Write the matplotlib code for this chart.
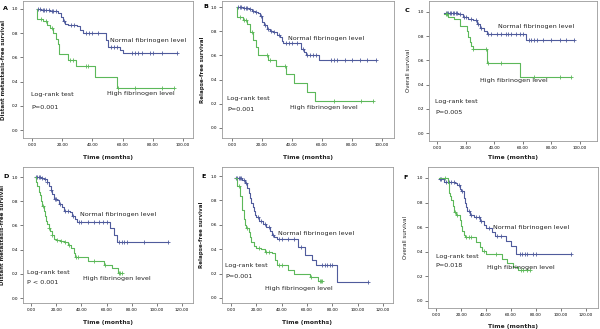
import numpy as np
import matplotlib.pyplot as plt

# ---- data (step points: time, survival) ----
a_norm_t = [3, 6, 12, 17.5, 19, 20.5, 22, 24, 30, 32, 34, 49, 50, 58, 60, 96]
a_norm_s = [1.0, 0.99, 0.98, 0.97, 0.93, 0.90, 0.88, 0.87, 0.86, 0.83, 0.80, 0.74, 0.69, 0.66, 0.64, 0.64]
a_norm_c = [4, 5, 7, 8, 9, 11, 13, 14, 16, 21, 26, 28, 36, 38, 40, 44, 52, 54, 56, 66, 68, 70, 73, 78, 80, 86, 96]
a_high_t = [3, 3.5, 7, 10, 12, 14, 16, 17, 18, 24, 29, 42, 56, 94]
a_high_s = [1.0, 0.92, 0.90, 0.87, 0.84, 0.80, 0.75, 0.71, 0.63, 0.58, 0.53, 0.44, 0.35, 0.35]
a_high_c = [6, 9, 13, 25, 27, 36, 37, 57, 68, 86, 94]

b_norm_t = [3, 7, 11, 13, 15, 17, 18.5, 20, 21.5, 23, 25, 27, 30, 32, 33, 34, 46, 48, 49, 58, 96]
b_norm_s = [1.0, 0.99, 0.98, 0.97, 0.96, 0.95, 0.93, 0.88, 0.85, 0.82, 0.80, 0.79, 0.77, 0.75, 0.72, 0.70, 0.65, 0.63, 0.60, 0.56, 0.56]
b_norm_c = [4, 5, 6, 8, 9, 10, 12, 14, 16, 19, 22, 24, 26, 28, 31, 36, 38, 40, 43, 47, 50, 52, 54, 56, 66, 68, 70, 75, 80, 85, 90, 96]
b_high_t = [3, 3.5, 7, 10, 12, 14, 16, 17.5, 24, 29, 36, 41, 50, 55, 94]
b_high_s = [1.0, 0.92, 0.89, 0.86, 0.79, 0.73, 0.67, 0.60, 0.56, 0.51, 0.45, 0.37, 0.30, 0.22, 0.22]
b_high_c = [5, 8, 9, 13, 23, 25, 35, 68, 86, 94]

c_norm_t = [5, 15, 18, 22, 25, 28, 30, 33, 35, 62, 96]
c_norm_s = [0.99, 0.98, 0.96, 0.94, 0.93, 0.90, 0.87, 0.84, 0.82, 0.77, 0.77]
c_norm_c = [6, 7, 8, 9, 10, 11, 12, 13, 14, 16, 19, 20, 24, 27, 29, 31, 36, 38, 42, 45, 48, 50, 52, 55, 58, 60,
            64, 66, 68, 70, 74, 80, 86, 90, 96]
c_high_t = [5, 8, 12, 16, 21, 22, 23, 24, 25, 35, 58, 94]
c_high_s = [0.98, 0.96, 0.94, 0.88, 0.84, 0.79, 0.75, 0.72, 0.69, 0.58, 0.46, 0.46]
c_high_c = [6, 7, 25.5, 34, 36, 45, 68, 86, 94]

d_norm_t = [3, 8, 10.6, 12.5, 14, 15.7, 17, 18.6, 21, 22.6, 24.4, 26, 31, 32.4, 35, 36.4, 62.4, 65.6, 68, 109]
d_norm_s = [1.0, 0.99, 0.98, 0.96, 0.93, 0.89, 0.86, 0.82, 0.81, 0.78, 0.75, 0.72, 0.71, 0.68, 0.65, 0.63, 0.58,
            0.52, 0.46, 0.46]
d_norm_c = [4, 5, 6, 7, 9, 11, 13, 16, 19, 20, 23, 27, 29, 33, 38, 40, 45, 50, 54, 57, 60, 70, 72, 74, 76, 90, 109]
d_high_t = [3, 4, 5, 6, 7, 8, 9, 10, 11, 12, 13, 14, 15, 16.5, 18, 20, 23, 26, 29, 32, 34, 35, 45, 58, 64, 69, 72]
d_high_s = [1.0, 0.96, 0.93, 0.88, 0.85, 0.80, 0.76, 0.72, 0.68, 0.64, 0.61, 0.58, 0.55, 0.52, 0.49, 0.48, 0.47,
            0.46, 0.44, 0.41, 0.37, 0.34, 0.31, 0.27, 0.25, 0.21, 0.21]
d_high_c = [9.5, 14.5, 17, 21, 24, 27, 30, 36, 37, 50, 58.5, 70, 71, 72]

e_norm_t = [3, 9, 11, 13, 14, 15, 16, 17, 18, 19, 20, 22, 25, 28, 31, 32, 34, 36, 53, 58, 64, 67, 84, 108]
e_norm_s = [0.98, 0.97, 0.94, 0.90, 0.86, 0.82, 0.78, 0.75, 0.71, 0.68, 0.66, 0.63, 0.61, 0.58, 0.55, 0.52, 0.50,
            0.48, 0.42, 0.35, 0.31, 0.27, 0.13, 0.13]
e_norm_c = [4, 5, 6, 7, 8, 10, 12, 21, 24, 27, 30, 33, 38, 40, 45, 50, 55, 72, 74, 76, 78, 80, 108]
e_high_t = [3, 5, 7, 9, 10, 11, 12, 14, 15, 16, 18, 20, 24, 27, 32, 35, 36, 45, 50, 62, 69, 72]
e_high_s = [0.98, 0.92, 0.84, 0.72, 0.65, 0.60, 0.57, 0.54, 0.50, 0.46, 0.43, 0.41, 0.40, 0.38, 0.37, 0.31, 0.27,
            0.23, 0.20, 0.17, 0.14, 0.14]
e_high_c = [6, 13, 22, 28, 30, 38, 40, 63, 70, 71, 72]

f_norm_t = [2, 6, 15, 17, 19, 20, 22, 23, 24, 25, 27, 30, 35, 38, 40, 45, 47, 56, 60, 64, 108]
f_norm_s = [0.99, 0.97, 0.96, 0.94, 0.91, 0.89, 0.84, 0.80, 0.76, 0.73, 0.70, 0.68, 0.65, 0.62, 0.59, 0.56, 0.53,
            0.49, 0.45, 0.38, 0.38]
f_norm_c = [3, 4, 8, 10, 12, 14, 18, 21, 26, 28, 32, 34, 36, 42, 49, 52, 67, 69, 71, 73, 78, 80, 108]
f_high_t = [2, 9, 10, 11, 12, 13, 14, 16, 19, 20, 21, 22, 23, 32, 35, 37, 40, 53, 57, 62, 66, 75]
f_high_s = [1.0, 0.96, 0.88, 0.85, 0.82, 0.77, 0.72, 0.70, 0.66, 0.61, 0.57, 0.54, 0.52, 0.48, 0.44, 0.41, 0.38,
            0.34, 0.31, 0.28, 0.25, 0.25]
f_high_c = [7, 15, 17, 24, 26, 28, 38, 48, 68, 70, 73, 75]

panel_letters = ['A', 'B', 'C', 'D', 'E', 'F']
y_titles = ['Distant metastasis-free survival', 'Relapse-free survival', 'Overall survival',
            'Distant metastasis-free survival', 'Relapse-free survival', 'Overall survival']
p_values = ['P=0.001', 'P=0.001', 'P=0.005', 'P < 0.001', 'P=0.001', 'P=0.018']
x_ticks_top = [0, 20, 40, 60, 80, 100]
x_ticks_bottom = [0, 20, 40, 60, 80, 100, 120]
y_ticks = [0.0, 0.2, 0.4, 0.6, 0.8, 1.0]

curves = [
    (a_norm_t, a_norm_s, a_norm_c, a_high_t, a_high_s, a_high_c),
    (b_norm_t, b_norm_s, b_norm_c, b_high_t, b_high_s, b_high_c),
    (c_norm_t, c_norm_s, c_norm_c, c_high_t, c_high_s, c_high_c),
    (d_norm_t, d_norm_s, d_norm_c, d_high_t, d_high_s, d_high_c),
    (e_norm_t, e_norm_s, e_norm_c, e_high_t, e_high_s, e_high_c),
    (f_norm_t, f_norm_s, f_norm_c, f_high_t, f_high_s, f_high_c),
]

# ---- layout (pixels: left, top, right, bottom), limits, text spots ----
W, H = 600, 329
boxes = [(23, 1, 193, 138), (222, 1, 394, 138), (429, 1, 597, 141),
         (23, 167, 193, 303), (222, 167, 393, 303), (428, 167, 598, 308)]
xlims = [(-6, 106.6), (-6.7, 108), (-5.6, 111.9), (-6.4, 128.7), (-7.1, 127.8), (-6.7, 129.9)]
ylims = [(-0.066, 1.066), (-0.083, 1.05), (-0.066, 1.09), (-0.041, 1.083), (-0.041, 1.074), (-0.057, 1.089)]
normal_pos = [(51.7, 0.74), (37.3, 0.74), (42.7, 0.88), (39, 0.69), (37, 0.53), (45.5, 0.60)]
high_pos = [(49.7, 0.30), (38.7, 0.17), (30, 0.43), (41.3, 0.165), (26.7, 0.08), (40.8, 0.275)]
logrank_pos = [(-0.7, 0.29), (-3.3, 0.24), (-1.4, 0.26), (-3.2, 0.215), (-4.7, 0.27), (-0.4, 0.365)]
pval_pos = [(-0.7, 0.19), (-3.3, 0.15), (-1.4, 0.17), (-3.2, 0.13), (-4.7, 0.18), (-0.4, 0.285)]
ylab_px = [6, 205, 411, 5, 204, 408]
xlab_px = [155, 155, 155, 320, 320, 324]
letter_px = [(3, 9), (203, 7), (405, 11), (3, 176), (201, 176), (403, 177)]

blue = '#4f5b9c'
green = '#5cb85a'
frame = '#9a9a9a'
txt = '#222222'


def step_value(t, s, x):
    i = np.searchsorted(t, x, side='right') - 1
    return np.array(s)[np.clip(i, 0, len(s) - 1)]


fig = plt.figure(figsize=(W / 100, H / 100), dpi=100)

for k in range(6):
    l, t, r, b = boxes[k]
    ax = fig.add_axes([l / W, 1 - b / H, (r - l) / W, (b - t) / H])
    nt, ns, nc, ht, hs, hc = curves[k]

    for tt, ss, cc, col in [(nt, ns, nc, blue), (ht, hs, hc, green)]:
        ax.step(tt, ss, where='post', color=col, lw=0.8)
        ax.plot(cc, step_value(tt, ss, cc), '+', color=col, ms=2.6, mew=0.6)

    ax.set_xlim(*xlims[k])
    ax.set_ylim(*ylims[k])
    xt = x_ticks_top if k < 3 else x_ticks_bottom
    ax.set_xticks(xt)
    ax.set_xticklabels(['%.2f' % v for v in xt], fontsize=3)
    ax.set_yticks(y_ticks)
    ax.set_yticklabels(['%.1f' % v for v in y_ticks], fontsize=3)
    ax.tick_params(length=2.2, width=0.5, pad=1.5, color='#444444')
    for sp in ax.spines.values():
        sp.set_color(frame)
        sp.set_linewidth(0.6)

    bold = 'bold' if k not in (2, 5) else 'normal'
    ax.set_ylabel(y_titles[k], fontsize=4.0, fontweight=bold, color=txt)
    ax.yaxis.set_label_coords((ylab_px[k] - l) / (r - l), 0.5)
    ax.set_xlabel('Time (months)', fontsize=4.3, fontweight='bold', color=txt)
    ax.xaxis.set_label_coords(0.5, (b - xlab_px[k]) / (b - t))

    ax.text(*normal_pos[k], 'Normal fibrinogen level', fontsize=4.6, va='center', color=txt)
    ax.text(*high_pos[k], 'High fibrinogen level', fontsize=4.6, va='center', color=txt)
    ax.text(*logrank_pos[k], 'Log-rank test', fontsize=4.6, va='center', color=txt)
    ax.text(*pval_pos[k], p_values[k], fontsize=4.6, va='center', color=txt)

    lx, ly = letter_px[k]
    fig.text(lx / W, 1 - ly / H, panel_letters[k], fontsize=4.6, fontweight='bold', va='center')

fig.savefig('out.png', dpi=100)
